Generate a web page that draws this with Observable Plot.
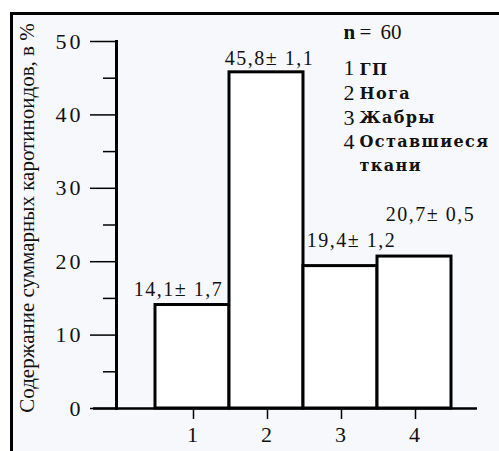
<!DOCTYPE html>
<html><head><meta charset="utf-8">
<script src="https://cdn.jsdelivr.net/npm/d3@7"></script>
<script src="https://cdn.jsdelivr.net/npm/@observablehq/plot@0.6"></script>
<style>
html,body{margin:0;padding:0;background:#fff;}
#wrap{position:relative;width:499px;height:451px;overflow:hidden;}
#panel{position:absolute;left:10px;top:12px;right:0;bottom:0;border-left:3px solid #000;border-top:3px solid #000;background:#f7f8fb;}
#chart{position:absolute;left:0;top:0;}
#chart g[aria-label="y-axis tick label"] text{letter-spacing:3px;}
#chart g[aria-label="x-axis tick label"] text{letter-spacing:2px;}
</style></head><body>
<div id="wrap"><div id="panel"></div><div id="chart"></div></div>
<script>
const categories = ["1", "2", "3", "4"];
const values = [14.1, 45.8, 19.4, 20.7];
const errors = [1.7, 1.1, 1.2, 0.5];
const yTicks = [0, 10, 20, 30, 40, 50];
const yMinorTicks = [5, 15, 25, 35, 45];
const yLabel = "Содержание суммарных каротиноидов, в %";
const legendN = "n";
const legendNValue = "= 60";
const legendNumbers = ["1", "2", "3", "4"];
const legendNames = ["ГП", "Нога", "Жабры", "Оставшиеся", "ткани"];

const fmt = v => v.toFixed(1).replace(".", ",");
const data = categories.map((c, i) => ({cat: c, value: values[i], label: `${fmt(values[i])}± ${fmt(errors[i])}`}));

// layout offsets of the value labels (pixels)
const labelOffsets = [[-14, -15], [3, -14], [11, -26], [16, -42]];

const serif = "Times New Roman";
const wideSerif = "DejaVu Serif";
const ink = "#111";

const plot = Plot.plot({
  width: 499,
  height: 451,
  marginLeft: 116,
  marginRight: 22,
  marginTop: 41,
  marginBottom: 43,
  style: "background:transparent;overflow:visible;",
  x: {type: "band", domain: categories, paddingInner: 0, paddingOuter: 0.415, align: 0.597},
  y: {domain: [0, 50]},
  marks: [
    Plot.barY(data, {x: "cat", y: "value", fill: "white", stroke: "#000", strokeWidth: 3}),
    Plot.frame({anchor: "left", stroke: "#000", strokeWidth: 3}),
    Plot.ruleY([0], {stroke: "#000", strokeWidth: 2.5, insetLeft: -23}),
    Plot.axisY({ticks: yTicks, tickSize: 26, tickPadding: 7, fontSize: 22, fontFamily: serif, fill: ink, tickFormat: d => String(d), label: null, strokeWidth: 1.5, stroke: "#000"}),
    Plot.axisY({ticks: yMinorTicks, tickSize: 13, text: null, label: null, strokeWidth: 1.5, stroke: "#000"}),
    Plot.axisX({tickSize: 11, tickPadding: 7, fontSize: 22, fontFamily: serif, fill: ink, label: null, strokeWidth: 1.5, stroke: "#000", dx: 1}),
    ...data.map((d, i) => Plot.text([d], {
      x: "cat", y: "value", text: "label", fontSize: 20, fontFamily: serif, lineAnchor: "middle",
      dx: labelOffsets[i][0], dy: labelOffsets[i][1], fill: ink
    })),
    Plot.text([yLabel], {frameAnchor: "left", textAnchor: "middle", rotate: -90, dx: -89, dy: -7, fontSize: 21, fontFamily: serif, fill: ink, lineAnchor: "middle"}),
    Plot.text([legendN], {frameAnchor: "top-left", dx: 227, dy: -9, textAnchor: "start", lineAnchor: "middle", fontSize: 21, fontFamily: serif, fontWeight: "bold", fill: ink}),
    Plot.text([legendNValue], {frameAnchor: "top-left", dx: 243, dy: -9, textAnchor: "start", lineAnchor: "middle", fontSize: 21, fontFamily: serif, fill: ink}),
    Plot.text([legendNumbers.join("\n")], {frameAnchor: "top-left", dx: 227, dy: 63, textAnchor: "start", lineAnchor: "middle", fontSize: 22, fontFamily: serif, lineHeight: 1.12, fill: ink}),
    Plot.text([legendNames.join("\n")], {frameAnchor: "top-left", dx: 243, dy: 74, textAnchor: "start", lineAnchor: "middle", fontSize: 16, fontFamily: wideSerif, fontWeight: "bold", lineHeight: 1.5, fill: ink})
  ]
});
// letter spacing to match the wide lettering of the reference
plot.querySelectorAll("text").forEach(t => {
  const s = t.textContent;
  if (s.includes("±")) t.style.letterSpacing = "1.5px";
  else if (s.includes("Оставшиеся")) t.style.letterSpacing = "1.4px";
  else if (s === legendNValue) t.style.wordSpacing = "4px";
});
document.getElementById("chart").appendChild(plot);
</script>
</body></html>
